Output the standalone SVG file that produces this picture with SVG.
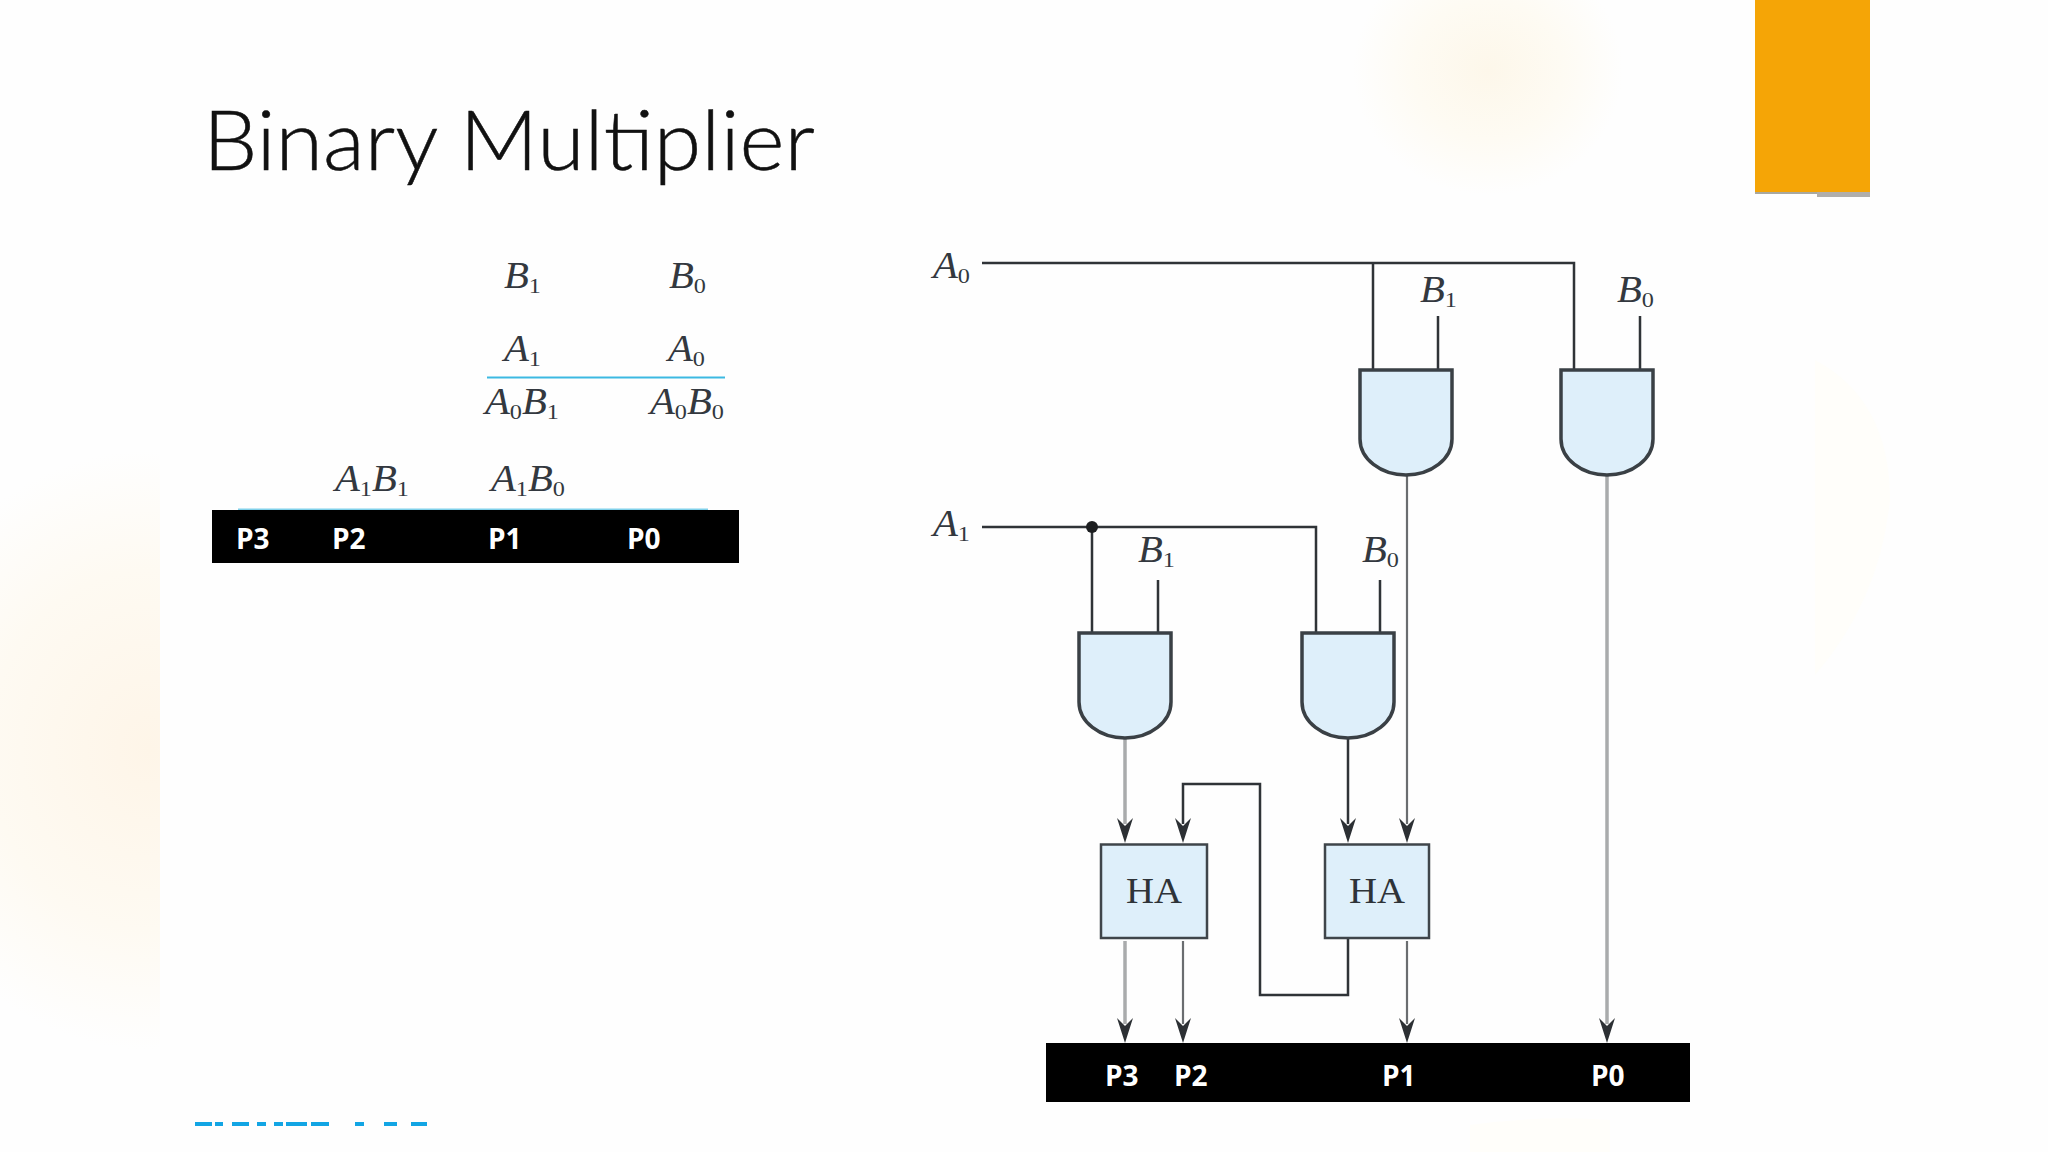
<svg xmlns="http://www.w3.org/2000/svg" width="2048" height="1152" viewBox="0 0 2048 1152">
<style>
.lbl{font-family:"Liberation Serif",serif;font-style:italic;font-size:37px;fill:#33383f}
.sub{font-size:22px;font-style:normal}
.p{font-family:"Open Sans","Noto Sans",sans-serif;font-weight:700;font-size:28px;fill:#fff}
.gate{fill:#deeffa;stroke:#3a4045;stroke-width:3.500}
.ha{fill:#deeffa;stroke:#3f454a;stroke-width:2.500}
.hat{font-family:"Liberation Serif",serif;font-size:36px;fill:#2e3338}
.w{fill:none;stroke:#2f3337;stroke-width:2.500}
.g{fill:none;stroke:#a9abac;stroke-width:3.500}
.d{fill:none;stroke:#6a6d70;stroke-width:2.200}
</style>
<defs>
<radialGradient id="blob"><stop offset="0" stop-color="#fdf7ea"/><stop offset="0.55" stop-color="#fefbf3"/><stop offset="1" stop-color="#fefefe"/></radialGradient>
<radialGradient id="blobL" gradientUnits="userSpaceOnUse" cx="0" cy="0" r="1" gradientTransform="translate(150 750) scale(270 300)"><stop offset="0" stop-color="#fef5e8"/><stop offset="0.6" stop-color="#fefaf2"/><stop offset="1" stop-color="#fefefe"/></radialGradient>
<path id="head" d="M0 0L-8-25L0-17L8-25Z" fill="#2c3034"/>
</defs>
<rect width="2048" height="1152" fill="#fefefe"/>
<g id="background">
<ellipse cx="1488" cy="70" rx="135" ry="125" fill="url(#blob)"/>
<path d="M1815 360Q1890 400 1890 500Q1880 600 1815 675Z" fill="#fffefa"/>
<path d="M1470 1152V1125Q1540 1115 1610 1120V1152Z" fill="#fffefa"/>
<rect x="0" y="450" width="160" height="660" fill="url(#blobL)"/>
</g>
<g id="accent">
<rect x="1817" y="190" width="53" height="7" fill="#b0aeab"/>
<rect x="1755" y="190" width="62" height="4" fill="#a8a8a0"/>
<rect x="1755" y="0" width="115" height="192" fill="#f5a506"/>
</g>
<text id="title" x="203" y="170" font-family="Lato,'Open Sans',sans-serif" font-weight="300" font-size="82" fill="#111" stroke="#111" stroke-width="0.5" textLength="612" lengthAdjust="spacingAndGlyphs">Binary Multiplier</text>
<g id="table">
<text class="lbl" transform="translate(504 288) scale(1.1 1)">B<tspan class="sub" dy="5">1</tspan></text>
<text class="lbl" transform="translate(669 288) scale(1.1 1)">B<tspan class="sub" dy="5">0</tspan></text>
<text class="lbl" transform="translate(504 361) scale(1.1 1)">A<tspan class="sub" dy="5">1</tspan></text>
<text class="lbl" transform="translate(668 361) scale(1.1 1)">A<tspan class="sub" dy="5">0</tspan></text>
<rect x="487" y="376.500" width="238" height="2" fill="#3db9e2"/>
<text class="lbl" transform="translate(485 414) scale(1.1 1)">A<tspan class="sub" dy="5">0</tspan><tspan dy="-5">B</tspan><tspan class="sub" dy="5">1</tspan></text>
<text class="lbl" transform="translate(650 414) scale(1.1 1)">A<tspan class="sub" dy="5">0</tspan><tspan dy="-5">B</tspan><tspan class="sub" dy="5">0</tspan></text>
<text class="lbl" transform="translate(335 491) scale(1.1 1)">A<tspan class="sub" dy="5">1</tspan><tspan dy="-5">B</tspan><tspan class="sub" dy="5">1</tspan></text>
<text class="lbl" transform="translate(491 491) scale(1.1 1)">A<tspan class="sub" dy="5">1</tspan><tspan dy="-5">B</tspan><tspan class="sub" dy="5">0</tspan></text>
<rect x="238" y="508.500" width="470" height="1.500" fill="#7fd0ea"/>
</g>
<g id="product-bar-left">
<rect x="212" y="510" width="527" height="53" fill="#000"/>
<text class="p" x="236" y="549">P3</text>
<text class="p" x="332" y="549">P2</text>
<text class="p" x="488" y="549">P1</text>
<text class="p" x="627" y="549">P0</text>
</g>
<g id="connectors">
<path class="w" d="M982 263H1574V370M1373 263V370"/>
<path class="w" d="M1438 316V370M1640 316V370"/>
<path class="w" d="M982 527H1316V633M1092 527V633"/>
<path class="w" d="M1158 580V633M1380 580V633"/>
<path class="g" d="M1125 738V824"/>
<path class="w" d="M1348 738V824"/>
<path class="d" d="M1407 475V824"/>
<path class="g" d="M1607 475V1024"/>
<path class="w" d="M1348 938V995H1260V784H1183V824"/>
<path class="g" d="M1125 941V1024"/>
<path class="d" d="M1183 941V1024"/>
<path class="d" d="M1407 941V1024"/>
<use href="#head" x="1125" y="843"/>
<use href="#head" x="1183" y="843"/>
<use href="#head" x="1348" y="843"/>
<use href="#head" x="1407" y="843"/>
<use href="#head" x="1125" y="1043"/>
<use href="#head" x="1183" y="1043"/>
<use href="#head" x="1407" y="1043"/>
<use href="#head" x="1607" y="1043"/>
<circle cx="1092" cy="527" r="6" fill="#1c1e20"/>
</g>
<g id="input-labels">
<text class="lbl" transform="translate(933 278) scale(1.1 1)">A<tspan class="sub" dy="5">0</tspan></text>
<text class="lbl" transform="translate(933 536) scale(1.1 1)">A<tspan class="sub" dy="5">1</tspan></text>
<text class="lbl" transform="translate(1420 302) scale(1.1 1)">B<tspan class="sub" dy="5">1</tspan></text>
<text class="lbl" transform="translate(1617 302) scale(1.1 1)">B<tspan class="sub" dy="5">0</tspan></text>
<text class="lbl" transform="translate(1138 562) scale(1.1 1)">B<tspan class="sub" dy="5">1</tspan></text>
<text class="lbl" transform="translate(1362 562) scale(1.1 1)">B<tspan class="sub" dy="5">0</tspan></text>
</g>
<g id="gate1"><path class="gate" d="M1360 370H1452V439A46 36 0 0 1 1360 439Z"/></g>
<g id="gate2"><path class="gate" d="M1561 370H1653V439A46 36 0 0 1 1561 439Z"/></g>
<g id="gate3"><path class="gate" d="M1079 633H1171V702A46 36 0 0 1 1079 702Z"/></g>
<g id="gate4"><path class="gate" d="M1302 633H1394V702A46 36 0 0 1 1302 702Z"/></g>
<g id="ha1"><rect class="ha" x="1101" y="844.500" width="106" height="93.500"/><text class="hat" x="1126" y="903" textLength="56" lengthAdjust="spacingAndGlyphs">HA</text></g>
<g id="ha2"><rect class="ha" x="1325" y="844.500" width="104" height="93.500"/><text class="hat" x="1349" y="903" textLength="56" lengthAdjust="spacingAndGlyphs">HA</text></g>
<g id="product-bar-right">
<rect x="1046" y="1043" width="644" height="59" fill="#000"/>
<text class="p" x="1105" y="1086">P3</text>
<text class="p" x="1174" y="1086">P2</text>
<text class="p" x="1382" y="1086">P1</text>
<text class="p" x="1591" y="1086">P0</text>
</g>
<g id="figure-fragment" fill="#12a5e4">
<rect x="195" y="1122" width="17" height="4"/><rect x="215" y="1122" width="8" height="4"/><rect x="232" y="1122" width="17" height="4"/><rect x="257" y="1122" width="9" height="4"/><rect x="274" y="1122" width="9" height="4"/><rect x="286" y="1122" width="21" height="4"/><rect x="311" y="1122" width="18" height="4"/><rect x="355" y="1122" width="9" height="4"/><rect x="384" y="1122" width="13" height="4"/><rect x="411" y="1122" width="16" height="4"/>
</g>
</svg>
